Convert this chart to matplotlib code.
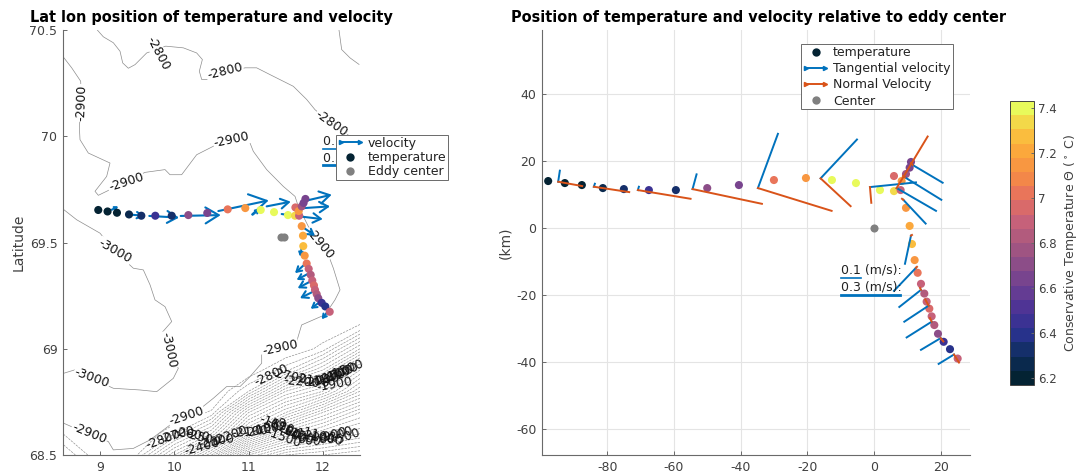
#Eddy temperature and velocity, lat lon view and eddy centred view

import numpy as np
import matplotlib
matplotlib.use('Agg')
import matplotlib.pyplot as plt
from matplotlib.colors import LinearSegmentedColormap, Normalize
from matplotlib.cm import ScalarMappable
from matplotlib.legend_handler import HandlerLine2D
from matplotlib.lines import Line2D

# temperature along the section, same order in both panels
temp = [6.2, 6.22, 6.22, 6.25, 6.35, 6.45, 6.33, 6.68, 6.62, 7.0, 7.15, 7.4, 7.4, 7.4, 7.35, 6.93, 6.9, 7.15,
	6.75, 6.65, 6.62, 7.15, 7.2, 7.3, 7.15, 7.05, 6.92, 6.8, 6.92, 6.95, 6.92, 6.8, 6.72, 6.45, 6.42, 6.88]
lon = [8.975, 9.10, 9.227, 9.389, 9.555, 9.743, 9.964, 10.188, 10.443, 10.718, 10.955, 11.163, 11.342, 11.53, 11.625, 11.63, 11.68, 11.675,
	11.715, 11.74, 11.765, 11.715, 11.732, 11.736, 11.755, 11.782, 11.809, 11.836, 11.857, 11.88, 11.894, 11.917, 11.938, 11.984, 12.033, 12.092]
lat = [69.653, 69.646, 69.640, 69.632, 69.626, 69.626, 69.626, 69.629, 69.639, 69.656, 69.662, 69.653, 69.643, 69.629, 69.626, 69.665, 69.626, 69.648,
	69.67, 69.686, 69.705, 69.577, 69.532, 69.483, 69.438, 69.401, 69.376, 69.348, 69.321, 69.298, 69.277, 69.257, 69.238, 69.216, 69.199, 69.174]
x_km = [-97.7, -92.7, -87.6, -81.3, -75, -67.5, -59.4, -50, -40.5, -30, -20.4, -12.6, -5.4, 1.8, 6, 6, 8, 8.3,
	9.6, 10.7, 11.1, 9.6, 10.7, 11.4, 12.2, 13.1, 14.1, 15.1, 15.8, 16.6, 17.3, 18.1, 19.2, 20.9, 22.8, 25.1]
y_km = [14, 13.4, 12.8, 11.9, 11.6, 11.3, 11.3, 11.9, 12.8, 14.3, 14.9, 14.3, 13.4, 11.3, 11, 15.5, 11.3, 14,
	16.1, 18, 19.7, 6, 0.6, -4.8, -9.6, -13.4, -16.7, -19.6, -22, -24.1, -26.4, -29, -31.6, -34, -36.2, -39]

center_lon = [11.44, 11.47]
center_lat = [69.525, 69.525]

# velocity arrows on the map
v_lon0 = [9.156, 9.379, 9.662, 10.085, 10.592, 11.055, 11.243, 11.445, 11.715, 11.746, 11.682, 11.715, 11.715, 11.773, 11.817, 11.871, 11.917, 11.984, 12.073]
v_lat0 = [69.654, 69.632, 69.625, 69.625, 69.648, 69.631, 69.670, 69.634, 69.692, 69.662, 69.623, 69.576, 69.475, 69.403, 69.356, 69.324, 69.277, 69.227, 69.178]
v_lon1 = [9.245, 9.591, 10.062, 10.624, 11.270, 11.153, 11.567, 11.598, 12.119, 12.096, 11.998, 11.894, 11.692, 11.625, 11.647, 11.661, 11.692, 11.836, 11.984]
v_lat1 = [69.670, 69.626, 69.617, 69.629, 69.698, 69.659, 69.692, 69.626, 69.725, 69.670, 69.610, 69.532, 69.434, 69.356, 69.324, 69.285, 69.238, 69.188, 69.139]

# tangential and normal velocity sticks, km from the eddy center
s_x0 = [-94.7, -84, -70.8, -54.4, -34.8, -16, -1.2, 6.8, 9.3, 11.6, 8.8, 11.1, 12.6, 14.1, 16.4, 17.3, 20, 24]
s_y0 = [13.8, 12.3, 11.3, 11.6, 11.9, 14.8, 12.2, 11.9, 15.1, 18.8, 8.4, -2.3, -11.9, -18.5, -23.2, -28, -32.9, -37.8]
t_x1 = [-94.2, -83.7, -70.5, -53.2, -28.8, -5.1, 12.6, 18.6, 20.2, 20.6, 15.5, 9.3, 6, 7.6, 9.1, 9.8, 14.1, 19.4]
t_y1 = [17.1, 13.2, 12.3, 16, 28.1, 26.4, 13.6, 5.1, 8.4, 13.5, 1.3, -10.7, -18.8, -23.6, -28, -32.7, -36.4, -40.6]
n_x1 = [-87.5, -73.4, -55, -33.6, -12.7, -7, -0.8, 16.1, 8.7, 11.1, 8.4, 11.4, 12.9, 13.8, 15.4, 16.8, 20.8, 25.5]
n_y1 = [12.5, 10.7, 8.7, 7.2, 5.1, 6.5, 7.5, 27.3, 15.5, 19.4, 8.7, -2.1, -11.6, -17.9, -21.4, -26.9, -33.9, -40.2]

# isobaths
iso_2800_a_lon = [8.962, 9.043, 9.178, 9.268, 9.304, 9.38, 9.47, 9.627, 9.883, 10.121, 10.30, 10.377, 10.336, 10.368, 10.457, 10.68, 10.951, 11.108, 11.288, 11.602, 11.782, 11.894, 12.118, 12.365, 12.5]
iso_2800_a_lat = [70.5, 70.468, 70.44, 70.40, 70.345, 70.32, 70.337, 70.392, 70.424, 70.416, 70.392, 70.361, 70.306, 70.267, 70.267, 70.295, 70.322, 70.322, 70.29, 70.235, 70.173, 70.125, 70.06, 70.0, 69.953]
iso_2800_b_lon = [12.217, 12.253, 12.365, 12.487]
iso_2800_b_lat = [70.5, 70.408, 70.369, 70.338]
iso_2900_lon = [8.513, 8.617, 8.738, 8.751, 8.72, 8.729, 8.841, 9.133, 9.088, 8.931, 8.976, 9.111, 9.357, 9.604, 9.874, 9.941, 10.098, 10.3, 10.525, 10.772, 11.01, 11.063, 11.243, 11.467, 11.625, 11.669, 11.804,
	12.073, 12.141, 12.231, 12.163, 12.029, 11.714, 11.647, 11.422, 11.176, 11.176, 11.019, 10.884, 10.704, 10.525, 10.30, 9.941, 9.672, 9.447, 9.178, 9.111, 8.841, 8.617, 8.513]
iso_2900_lat = [70.369, 70.322, 70.259, 70.157, 70.047, 69.984, 69.921, 69.874, 69.811, 69.741, 69.722, 69.745, 69.788, 69.83, 69.843, 69.819, 69.819, 69.913, 69.953, 69.992, 69.976, 69.929, 69.843, 69.764, 69.717, 69.67, 69.576,
	69.442, 69.379, 69.277, 69.23, 69.16, 69.112, 69.034, 69.003, 68.971, 68.932, 68.869, 68.822, 68.822, 68.767, 68.704, 68.641, 68.571, 68.531, 68.524, 68.563, 68.602, 68.633, 68.649]
iso_3000_lon = [8.513, 8.684, 8.998, 9.2, 9.447, 9.582, 9.672, 9.739, 9.874, 9.964, 9.806, 9.919, 10.053, 9.986, 9.762, 9.537, 9.178, 8.886, 8.662, 8.513]
iso_3000_lat = [69.654, 69.607, 69.544, 69.458, 69.379, 69.371, 69.301, 69.23, 69.198, 69.128, 69.065, 68.995, 68.908, 68.861, 68.798, 68.806, 68.814, 68.861, 68.901, 68.885]

# coarse depth table for the slope in the south
slope_lon = [8.5, 9, 9.5, 10, 10.5, 11, 11.5, 12, 12.5]
slope_lat = [68.5, 68.6, 68.7, 68.8, 68.9, 69.0, 69.1, 69.2]
slope_depth = [[-2700, -2850, -2800, -2450, -2050, -1450, -1250, -1200, -1150],
	[-2800, -2900, -2870, -2750, -2500, -2000, -1650, -1500, -1400],
	[-2850, -2900, -2900, -2860, -2790, -2300, -2050, -1800, -1600],
	[-2900, -2950, -2950, -2930, -2880, -2700, -2350, -2200, -1900],
	[-2950, -3000, -3000, -2980, -2900, -2850, -2720, -2500, -2150],
	[-3000, -3000, -3000, -3000, -2960, -2900, -2860, -2780, -2500],
	[-3050, -3050, -3050, -3020, -2980, -2930, -2880, -2850, -2790],
	[-3100, -3100, -3100, -3050, -3000, -2950, -2900, -2880, -2860]]
slope_levels = list(range(-2800, -1100, 50))

# contour labels
label_txt = ['-2800', '-2800', '-2800', '-2900', '-2900', '-2900', '-2900', '-3000', '-3000', '-3000', '-2900', '-2900', '-2900']
label_lon = [9.784, 10.68, 12.118, 8.751, 10.772, 9.349, 11.961, 9.2, 9.919, 8.886, 11.422, 10.166, 8.855]
label_lat = [70.392, 70.306, 70.06, 70.157, 69.984, 69.783, 69.497, 69.458, 68.995, 68.861, 69.003, 68.681, 68.602]
label_rot = [-62, 14, -35, 88, 12, 18, -50, -30, -78, -20, 12, 18, -22]

dense_txt = ['-2800', '-2700', '-2200', '-2100', '-2000', '-1900', '-1800', '-1700', '-1600', '-1500', '-1900',
	'-2800', '-2700', '-2600', '-2500', '-2400', '-2300', '-2200', '-2100', '-2000', '-1900', '-1800', '-1700', '-1600', '-1500', '-1400', '-1300', '-1200', '-1100', '-1000', '-900', '-800', '-500']
dense_lon = [11.31, 11.548, 11.714, 11.849, 11.984, 12.074, 12.141, 12.186, 12.253, 12.32, 12.163,
	9.851, 10.031, 10.233, 10.39, 10.368, 10.57, 10.749, 11.019, 11.176, 11.288, 11.378, 11.467, 11.557, 11.467, 11.647, 11.737, 11.827, 11.916, 12.029, 12.141, 12.231, 12.32]
dense_lat = [68.877, 68.869, 68.845, 68.848, 68.853, 68.861, 68.869, 68.877, 68.89, 68.901, 68.83,
	68.575, 68.594, 68.594, 68.578, 68.539, 68.563, 68.594, 68.61, 68.618, 68.633, 68.641, 68.625, 68.602, 68.578, 68.594, 68.586, 68.586, 68.594, 68.578, 68.594, 68.594, 68.586]
dense_rot = [25, -12, -5, -10, 10, 15, 20, 20, 20, 20, 10,
	20, 15, -10, -15, 15, 10, 20, 5, 10, 15, -20, -25, -30, -20, -25, -20, -15, -15, -10, 15, 20, 20]

# cmocean thermal style colours
thermal = ['#042333', '#0d2d5c', '#2a3390', '#4a3296', '#6b3f92', '#8a4c88', '#a8587f', '#c8627a', '#e56f5f', '#f68b45', '#fba53c', '#f9c63f', '#e8fa5b']
cmap = LinearSegmentedColormap.from_list('thermal', thermal, N=20)
norm = Normalize(vmin=6.17, vmax=7.43)

BLUE = '#0072bd'
ORANGE = '#d95319'
GRAY = '#808080'
AXC = '#6a6a6a'
TXT = '#404040'

plt.rcParams['font.family'] = 'DejaVu Sans'
fig = plt.figure(figsize=(10.81, 4.74), dpi=100)

def make_axes(x0, x1):
	ax = fig.add_axes([x0/1081, 1 - 455/474, (x1 - x0)/1081, 425/474])
	ax.spines['top'].set_visible(False)
	ax.spines['right'].set_visible(False)
	ax.spines['left'].set_color(AXC)
	ax.spines['bottom'].set_color(AXC)
	ax.tick_params(direction='in', length=3, width=0.7, color=AXC, labelcolor=TXT, labelsize=9, pad=4)
	return ax

#left panel, map
ax1 = make_axes(63, 360)
ax1.set_xlim(8.5, 12.5)
ax1.set_ylim(68.5, 70.5)
ax1.set_xticks([9, 10, 11, 12])
ax1.set_xticklabels(['9', '10', '11', '12'])
ax1.set_yticks([68.5, 69, 69.5, 70, 70.5])
ax1.set_yticklabels(['68.5', '69', '69.5', '70', '70.5'])
ax1.set_ylabel('Latitude', fontsize=10, color=TXT, labelpad=3)
ax1.text(-0.112, 1.012, 'Lat lon position of temperature and velocity', transform=ax1.transAxes, fontsize=10.45, fontweight='bold', va='bottom')

iso_col = '#8c8c8c'
for xs, ys in [(iso_2800_a_lon, iso_2800_a_lat), (iso_2800_b_lon, iso_2800_b_lat), (iso_2900_lon, iso_2900_lat), (iso_3000_lon, iso_3000_lat)]:
	ax1.plot(xs, ys, color=iso_col, lw=0.5, zorder=1)
ax1.contour(slope_lon, slope_lat, np.array(slope_depth), levels=slope_levels, colors=iso_col, linewidths=0.45, zorder=1)

for t, x, y, r in zip(label_txt, label_lon, label_lat, label_rot):
	ax1.text(x, y, t, rotation=r, rotation_mode='anchor', ha='center', va='center', fontsize=9, color='#111111', zorder=2,
		bbox=dict(facecolor='white', edgecolor='none', pad=0.5))
for t, x, y, r in zip(dense_txt, dense_lon, dense_lat, dense_rot):
	ax1.text(x, y, t, rotation=r, rotation_mode='anchor', ha='center', va='center', fontsize=9, color='#111111', zorder=2)

for x0, y0, x1, y1 in zip(v_lon0, v_lat0, v_lon1, v_lat1):
	p0 = ax1.transData.transform((x0, y0))
	p1 = ax1.transData.transform((x1, y1))
	length = np.hypot(*(p1 - p0))*0.72		#length in points
	ax1.annotate('', xy=(x1, y1), xytext=(x0, y0), zorder=3,
		arrowprops=dict(arrowstyle='->,head_length=0.33,head_width=0.2', mutation_scale=length, color=BLUE, lw=1.5, shrinkA=0, shrinkB=0))

ax1.scatter(lon, lat, c=temp, cmap=cmap, norm=norm, s=34, linewidths=0, zorder=4)
ax1.scatter(center_lon, center_lat, c=GRAY, s=34, linewidths=0, zorder=4)

ax1.plot([11.997, 12.2], [69.94, 69.94], color=BLUE, lw=1.2, zorder=3, clip_on=False)
ax1.plot([11.997, 12.6], [69.863, 69.863], color=BLUE, lw=2, zorder=3, clip_on=False)
ax1.text(11.997, 69.945, '0.1 (m/s):', fontsize=9, color='#222222', va='bottom', zorder=3, clip_on=False)
ax1.text(11.997, 69.868, '0.3 (m/s):', fontsize=9, color='#222222', va='bottom', zorder=3, clip_on=False)

arrow1 = Line2D([0], [0], color=BLUE, lw=1.4, marker='>', markersize=3, markevery=[1])
dot_t = Line2D([0], [0], color='none', marker='o', markersize=6, markerfacecolor='#042333', markeredgecolor='none')
dot_c = Line2D([0], [0], color='none', marker='o', markersize=6, markerfacecolor=GRAY, markeredgecolor='none')
leg1 = ax1.legend([arrow1, dot_t, dot_c], ['velocity', 'temperature', 'Eddy center'], loc='upper left',
	bbox_to_anchor=(335.7/1081, 1 - 135/474), bbox_transform=fig.transFigure, borderaxespad=0, fontsize=9, fancybox=False, framealpha=1,
	edgecolor=AXC, handlelength=2.1, handletextpad=0.35, labelspacing=0.12, borderpad=0.12, numpoints=1, handler_map={arrow1: HandlerLine2D(numpoints=2)})
leg1.get_frame().set_linewidth(0.7)
for t in leg1.get_texts():
	t.set_color('#222222')

#right panel, eddy coordinates
ax2 = make_axes(542, 970)
ax2.set_xlim(-99.55, 28.8)
ax2.set_ylim(-67.8, 59.1)
ax2.set_xticks([-80, -60, -40, -20, 0, 20])
ax2.set_yticks([-60, -40, -20, 0, 20, 40])
ax2.set_xticklabels(['-80', '-60', '-40', '-20', '0', '20'])
ax2.set_yticklabels(['-60', '-40', '-20', '0', '20', '40'])
ax2.grid(True, color='#e4e4e4', lw=0.8)
ax2.set_axisbelow(True)
ax2.set_ylabel('(km)', fontsize=10, color=TXT, labelpad=3)
ax2.text(-0.072, 1.012, 'Position of temperature and velocity relative to eddy center', transform=ax2.transAxes, fontsize=10.45, fontweight='bold', va='bottom')

ax2.scatter(x_km, y_km, c=temp, cmap=cmap, norm=norm, s=34, linewidths=0, zorder=3)
ax2.scatter([0], [0], c=GRAY, s=34, linewidths=0, zorder=3)
for i in range(len(s_x0)):
	ax2.plot([s_x0[i], t_x1[i]], [s_y0[i], t_y1[i]], color=BLUE, lw=1.4, zorder=4)
	ax2.plot([s_x0[i], n_x1[i]], [s_y0[i], n_y1[i]], color=ORANGE, lw=1.4, zorder=4)

ax2.plot([-10, -4], [-14.9, -14.9], color=BLUE, lw=1.2, zorder=4)
ax2.plot([-10, 7.9], [-20, -20], color=BLUE, lw=2, zorder=4)
ax2.text(-10, -14.6, '0.1 (m/s):', fontsize=9, color='#222222', va='bottom', zorder=5)
ax2.text(-10, -19.7, '0.3 (m/s):', fontsize=9, color='#222222', va='bottom', zorder=5)

arrow_t = Line2D([0], [0], color=BLUE, lw=1.4, marker='>', markersize=3, markevery=[1])
arrow_n = Line2D([0], [0], color=ORANGE, lw=1.4, marker='>', markersize=3, markevery=[1])
leg2 = ax2.legend([dot_t, arrow_t, arrow_n, dot_c], ['temperature', 'Tangential velocity', 'Normal Velocity', 'Center'], loc='upper left',
	bbox_to_anchor=(800.7/1081, 1 - 44.3/474), bbox_transform=fig.transFigure, borderaxespad=0, fontsize=9, fancybox=False, framealpha=1,
	edgecolor=AXC, handlelength=2.1, handletextpad=0.35, labelspacing=0.25, borderpad=0.15, numpoints=1,
	handler_map={arrow_t: HandlerLine2D(numpoints=2), arrow_n: HandlerLine2D(numpoints=2)})
leg2.get_frame().set_linewidth(0.7)
for t in leg2.get_texts():
	t.set_color('#222222')

#colorbar
cax = fig.add_axes([1010/1081, 1 - 385/474, 24/1081, 284/474])
cb = fig.colorbar(ScalarMappable(norm=norm, cmap=cmap), cax=cax)
cb.set_ticks([6.2, 6.4, 6.6, 6.8, 7, 7.2, 7.4])
cb.set_ticklabels(['6.2', '6.4', '6.6', '6.8', '7', '7.2', '7.4'])
cax.tick_params(direction='in', length=2.5, width=0.7, color=AXC, labelcolor=TXT, labelsize=8.5, pad=3)
cb.outline.set_edgecolor('#444444')
cb.outline.set_linewidth(0.7)
cb.set_label('Conservative Temperature $\\Theta$ ($^\\circ$ C)', fontsize=9, color=TXT, labelpad=4)

plt.savefig('out.png', dpi=100)
